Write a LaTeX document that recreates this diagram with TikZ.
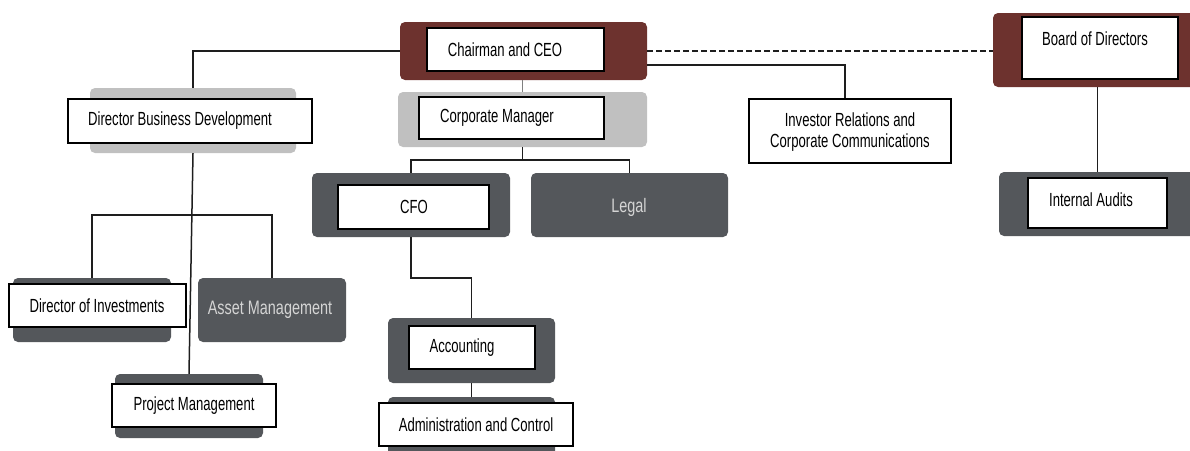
\documentclass[tikz,border=0pt]{standalone}
\usepackage{fontspec}
\setmainfont[FakeStretch=0.69]{Liberation Sans}
\newfontfamily\lightfont[FakeStretch=0.74]{Liberation Sans}
\usetikzlibrary{calc}
\definecolor{ceored}{HTML}{6D322E}
\definecolor{darkbox}{HTML}{54575B}
\definecolor{lightbox}{HTML}{C0C0C0}
\definecolor{lighttext}{HTML}{D4D4D4}
\definecolor{linecol}{HTML}{1E1E1E}
\tikzset{
  bgbox/.style={rounded corners=5pt, inner sep=0pt, draw=none},
  redbg/.style={bgbox, fill=ceored},
  darkbg/.style={bgbox, fill=darkbox},
  lightbg/.style={bgbox, fill=lightbox},
  whitebox/.style={draw=black, line width=1.6pt, fill=white, inner sep=0pt},
  lbl/.style={inner sep=0pt, font=\fontsize{19}{21}\selectfont, text=black, align=center},
  greylbl/.style={inner sep=0pt, font=\lightfont\fontsize{19.5}{21}\selectfont, text=lighttext},
  conn/.style={draw=linecol, line width=1.5pt},
}
\begin{document}
\begin{tikzpicture}[x=1pt, y=-1pt]
\useasboundingbox (0,0) rectangle (1190,450);
% background plates
\node[redbg, minimum width=247, minimum height=58] (ceobg) at (523.5,51) {};
\node[lightbg, minimum width=249, minimum height=55] (cmbg) at (522.5,119.5) {};
\node[darkbg, minimum width=198, minimum height=64] (cfobg) at (411,205) {};
\node[darkbg, minimum width=197, minimum height=64] (legalbg) at (629.5,205) {};
\node[lightbg, minimum width=206, minimum height=65] (dbdbg) at (193,120.5) {};
\node[darkbg, minimum width=158, minimum height=64] (doibg) at (92,310) {};
\node[darkbg, minimum width=148, minimum height=64] (ambg) at (272,310) {};
\node[darkbg, minimum width=148, minimum height=64] (pmbg) at (189,406) {};
\node[darkbg, minimum width=167, minimum height=65] (accbg) at (471.5,350.5) {};
\node[darkbg, minimum width=167, minimum height=60] (adminbg) at (471.5,427) {};
\node[redbg, minimum width=210, minimum height=74] (boardbg) at (1098,50) {};
\node[darkbg, minimum width=204, minimum height=64] (iabg) at (1101,204) {};
% connectors
\coordinate (cmfork) at ($(cmbg.south)+(0,13)$);
\coordinate (dbdfork) at ($(dbdbg.south)+(0,62)$);
\coordinate (cfofork) at ($(accbg.north)+(0,-40)$);
\coordinate (invtop) at ($(ceobg.east)+(0,14)$);
\draw[conn] (ceobg.west) -| (dbdbg.north);
\draw[draw=gray, line width=1.5pt] (ceobg.south -| cmbg.north) -- (cmbg.north);
\draw[conn] (cmbg.south) -- (cmfork);
\draw[conn] (cfobg.north) |- (cmfork) -| (legalbg.north);
\draw[conn, dashed, dash pattern=on 6pt off 3pt] (ceobg.east) -- (ceobg.east -| boardbg.west);
\draw[conn] (dbdbg.south) -- (pmbg.north);
\draw[conn] (doibg.north) |- (dbdfork) -| (ambg.north);
\draw[conn] (cfobg.south) |- (cfofork) -| (accbg.north);
\draw[conn] (accbg.south) -- (adminbg.north);
% white boxes
\node[whitebox, minimum width=177, minimum height=43] (ceo) at (515.5,49.5) {};
\node[whitebox, minimum width=185, minimum height=42] (cm) at (511.5,118) {};
\node[whitebox, minimum width=151, minimum height=44] (cfo) at (413.5,207) {};
\node[whitebox, minimum width=244, minimum height=44] (dbd) at (190,121) {};
\node[whitebox, minimum width=177, minimum height=43] (doi) at (97.5,305.5) {};
\node[whitebox, minimum width=164, minimum height=43] (pm) at (194,405.5) {};
\node[whitebox, minimum width=126, minimum height=43] (acc) at (472,347.5) {};
\node[whitebox, minimum width=194, minimum height=43] (admin) at (476,424.5) {};
\node[whitebox, minimum width=202, minimum height=64] (inv) at (850,131) {};
\node[whitebox, minimum width=156, minimum height=62] (board) at (1100,48) {};
\node[whitebox, minimum width=139, minimum height=50] (ia) at (1097.5,203) {};
\draw[conn] (invtop) -| ($(inv.north)+(-5,0)$);
\draw[conn] (ia.north |- boardbg.south) -- (ia.north |- iabg.north);
% labels
\node[lbl] (ceoT) at (505,50) {Chairman and CEO};
\node[lbl] (cmT) at (497,118) {Corporate Manager};
\node[lbl] (cfoT) at (414,207) {CFO};
\node[greylbl] (legalT) at (629,207) {Legal};
\node[lbl] (dbdT) at (180,121) {Director Business Development};
\node[lbl] (doiT) at (97,306) {Director of Investments};
\node[greylbl] (amT) at (270,310) {Asset Management};
\node[lbl] (pmT) at (194,406) {Project Management};
\node[lbl] (accT) at (462,348) {Accounting};
\node[lbl] (adminT) at (476,425) {Administration and Control};
\node[lbl] (invT) at (850,132) {Investor Relations and\\Corporate Communications};
\node[lbl] (boardT) at (1095,39) {Board of Directors};
\node[lbl] (iaT) at (1091,200) {Internal Audits};
\end{tikzpicture}
\end{document}
